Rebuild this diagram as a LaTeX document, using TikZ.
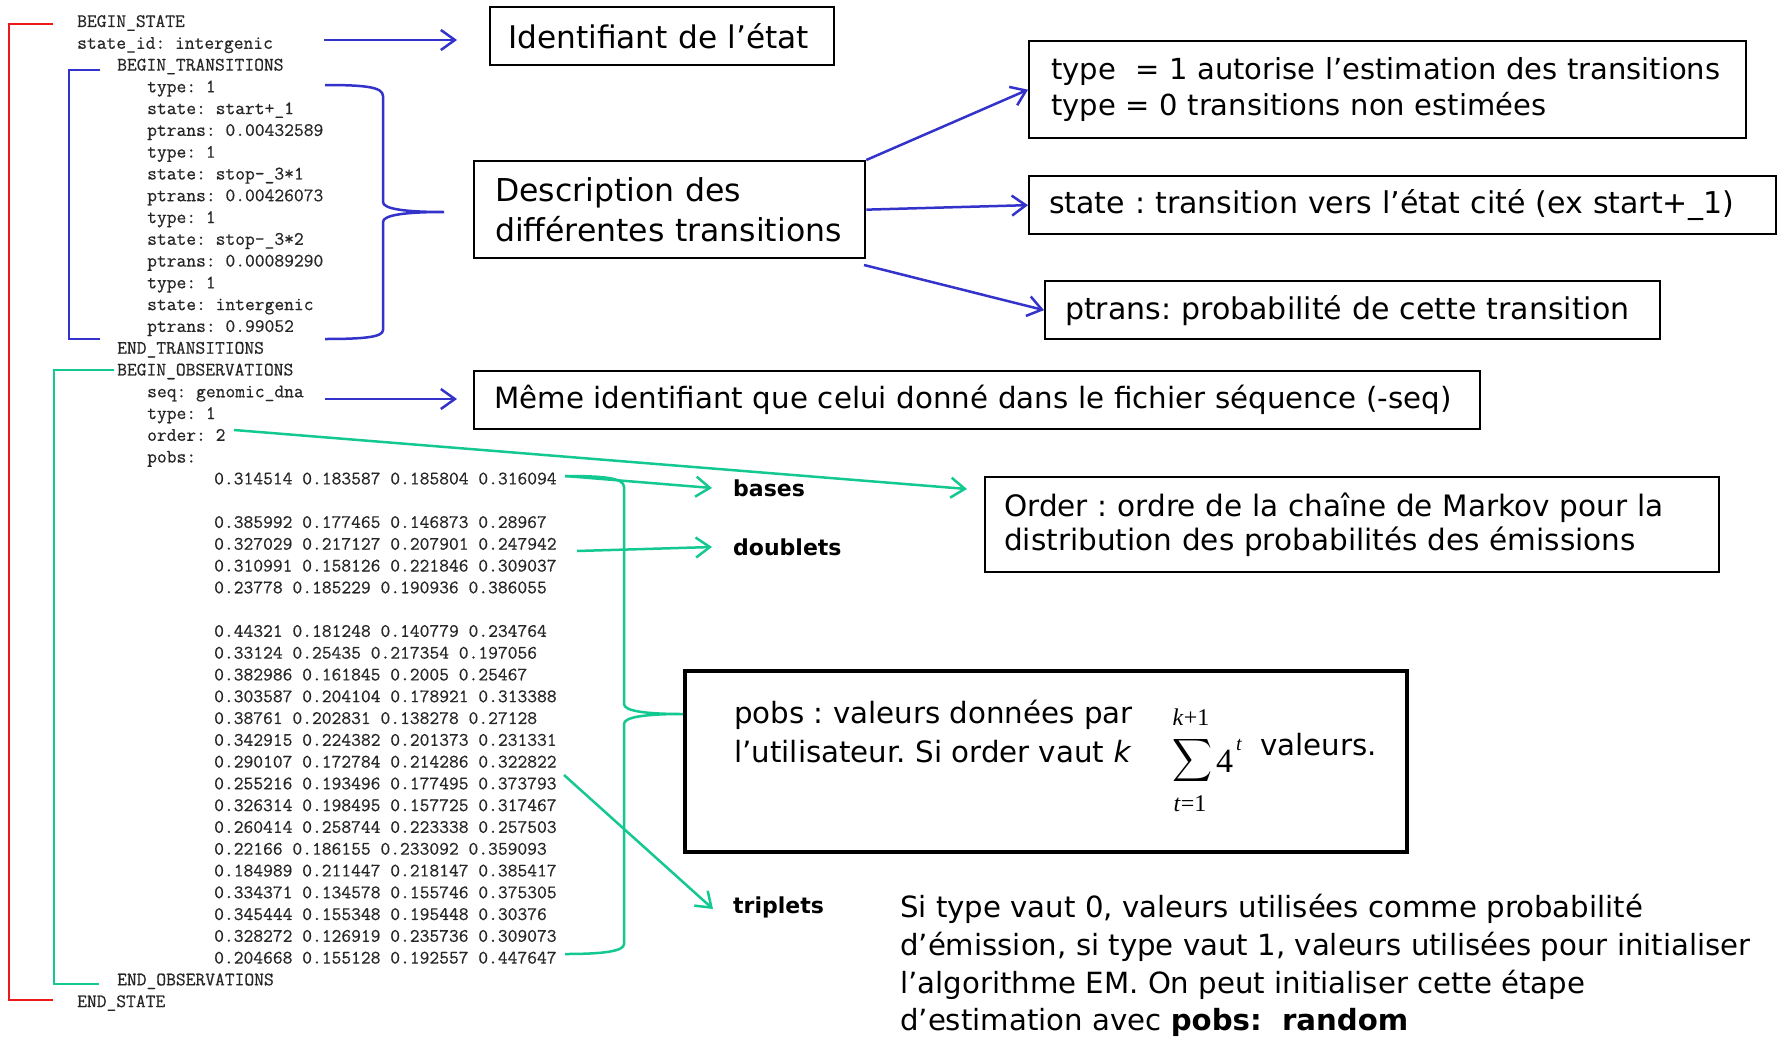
\documentclass[tikz,border=0pt]{standalone}
\usepackage{fontspec}
\usepackage{graphicx}
\usetikzlibrary{arrows.meta}
\newfontfamily\comic{DejaVu Sans}
\newfontfamily\timesf{Liberation Serif}
\newfontfamily\codef[FakeBold=0.5]{Latin Modern Mono}
\definecolor{myblue}{RGB}{51,51,204}
\definecolor{mygreen}{RGB}{20,200,145}
\definecolor{myred}{RGB}{235,25,25}
\newcommand{\oneline}[1]{\mbox{#1}}
\newcommand{\cs}[1]{\comic\fontsize{#1}{36}\selectfont}
\frenchspacing
\begin{document}
\begin{tikzpicture}[x=1pt,y=-1pt,
  code/.style={anchor=base west, inner sep=0pt, font=\codef\fontsize{19}{21.8}\selectfont, text=black!85},
  tbox/.style={draw=black, line width=2.3pt, anchor=north west, align=left, inner ysep=0pt, font=\cs{30}},
  ann/.style={anchor=base west, inner sep=0pt, font=\cs{29.3}},
  lbl/.style={anchor=west, inner sep=0pt, font=\comic\bfseries\fontsize{22}{26}\selectfont},
  bline/.style={draw=myblue, line width=2.5pt},
  gline/.style={draw=mygreen, line width=2.5pt},
  rline/.style={draw=myred, line width=2.2pt},
  barrow/.style={bline, -{Straight Barb[length=14pt,width=20pt]}},
  garrow/.style={gline, -{Straight Barb[length=14pt,width=20pt]}},
]
\path[fill=white, use as bounding box] (0,0) rectangle (1784,1041);

% ---------- code listing ----------
\foreach \i/\xx/\t in {
  0/77/BEGIN\_STATE,
  1/77/state\_id: intergenic,
  2/117/BEGIN\_TRANSITIONS,
  3/147/type: 1,
  4/147/state: start+\_1,
  5/147/ptrans: 0.00432589,
  6/147/type: 1,
  7/147/state: stop-\_3*1,
  8/147/ptrans: 0.00426073,
  9/147/type: 1,
  10/147/state: stop-\_3*2,
  11/147/ptrans: 0.00089290,
  12/147/type: 1,
  13/147/state: intergenic,
  14/147/ptrans: 0.99052,
  15/117/END\_TRANSITIONS,
  16/117/BEGIN\_OBSERVATIONS,
  17/147/seq: genomic\_dna,
  18/147/type: 1,
  19/147/order: 2,
  20/147/pobs:,
  21/214/0.314514 0.183587 0.185804 0.316094,
  23/214/0.385992 0.177465 0.146873 0.28967,
  24/214/0.327029 0.217127 0.207901 0.247942,
  25/214/0.310991 0.158126 0.221846 0.309037,
  26/214/0.23778 0.185229 0.190936 0.386055,
  28/214/0.44321 0.181248 0.140779 0.234764,
  29/214/0.33124 0.25435 0.217354 0.197056,
  30/214/0.382986 0.161845 0.2005 0.25467,
  31/214/0.303587 0.204104 0.178921 0.313388,
  32/214/0.38761 0.202831 0.138278 0.27128,
  33/214/0.342915 0.224382 0.201373 0.231331,
  34/214/0.290107 0.172784 0.214286 0.322822,
  35/214/0.255216 0.193496 0.177495 0.373793,
  36/214/0.326314 0.198495 0.157725 0.317467,
  37/214/0.260414 0.258744 0.223338 0.257503,
  38/214/0.22166 0.186155 0.233092 0.359093,
  39/214/0.184989 0.211447 0.218147 0.385417,
  40/214/0.334371 0.134578 0.155746 0.375305,
  41/214/0.345444 0.155348 0.195448 0.30376,
  42/214/0.328272 0.126919 0.235736 0.309073,
  43/214/0.204668 0.155128 0.192557 0.447647,
  44/117/END\_OBSERVATIONS,
  45/77/END\_STATE}
  \node[code] (L\i) at (\xx, 27+21.78*\i) {\t};

% ---------- brackets and braces ----------
\draw[rline] (53,24) -- (9,24) -- (9,1000) -- (53,1000);
\draw[bline] (100,70) -- (69,70) -- (69,339) -- (100,339);
\draw[gline] (114,370) -- (54,370) -- (54,984) -- (99,984);
\draw[bline] (325,85) .. controls (365,85) and (383,87) .. (383,96) -- (383,202)
   .. controls (383,209) and (405,212) .. (444,212)
   .. controls (405,212) and (383,215) .. (383,222) -- (383,330)
   .. controls (383,337) and (365,339) .. (325,339);
\draw[gline] (565,476) .. controls (605,476) and (624,478) .. (624,487) -- (624,704)
   .. controls (624,711) and (645,714) .. (683,714)
   .. controls (645,714) and (624,717) .. (624,724) -- (624,944)
   .. controls (624,951) and (605,954) .. (565,954);

% ---------- boxes ----------
\node[tbox, font=\cs{31.2}, inner xsep=18pt, text width=308pt, minimum height=58pt] (idbox) at (489,6)
  {\oneline{Identifiant de l’état}};
\node[tbox, font=\comic\fontsize{29}{36}\selectfont, inner xsep=22pt, text width=673pt, minimum height=97pt] (typebox) at (1028,40)
  {\oneline{type\ \ = 1 autorise l’estimation des transitions}\\\oneline{type = 0 transitions non estimées}};
\node[tbox, inner xsep=20pt, text width=707pt, minimum height=58pt] (statebox) at (1028,175)
  {\oneline{state : transition vers l’état cité (ex start+\_1)}};
\node[tbox, inner xsep=20pt, text width=575pt, minimum height=58pt] (ptransbox) at (1044,280)
  {\oneline{ptrans: probabilité de cette transition}};
\node[tbox, inner xsep=21pt, text width=349pt, minimum height=97pt, font=\comic\fontsize{31.5}{40}\selectfont] (descbox) at (473,160)
  {\oneline{Description des}\\\oneline{différentes transitions}};
\node[tbox, font=\cs{29.3}, inner xsep=20pt, text width=966pt, minimum height=58pt] (memebox) at (473,370)
  {\oneline{Même identifiant que celui donné dans le fichier séquence (-seq)}};
\node[tbox, inner xsep=19pt, text width=696pt, minimum height=95pt, font=\comic\fontsize{29.5}{34}\selectfont] (orderbox) at (984,476)
  {\oneline{Order : ordre de la chaîne de Markov pour la}\\\oneline{distribution des probabilités des émissions}};
\node[draw=black, line width=4pt, anchor=north west, minimum width=722pt, minimum height=181pt, inner sep=0pt] (pobsbox) at (683,669) {};

% ---------- pobs box content ----------
\node[ann] (pobs1) at (734,723) {pobs : valeurs données par};
\node[ann] (pobs2) at (734,762) {l’utilisateur. Si order vaut \textit{k}};
\node[inner sep=0pt] (sigma) at (1192,760) {\resizebox*{40pt}{48pt}{$\displaystyle\sum$}};
\node[inner sep=0pt, font=\timesf\fontsize{24}{28}\selectfont] (sumtop) at (1191,717) {\textit{k}+1};
\node[inner sep=0pt, font=\timesf\fontsize{24}{28}\selectfont] (sumbot) at (1190,804) {\textit{t}=1};
\node[anchor=base west, inner sep=0pt, font=\timesf\fontsize{34}{40}\selectfont] (four) at (1216,772) {4};
\node[anchor=base west, inner sep=0pt, font=\timesf\itshape\fontsize{20}{24}\selectfont] (supt) at (1236,750) {t};
\node[ann] (valeurs) at (1260,755) {valeurs.};

% ---------- labels ----------
\node[lbl] (bases) at (733,488) {bases};
\node[lbl] (doublets) at (733,547) {doublets};
\node[lbl] (triplets) at (733,907) {triplets};

% ---------- paragraph ----------
\node[ann, font=\cs{29.2}] (para1) at (900,917) {Si type vaut 0, valeurs utilisées comme probabilité};
\node[ann, font=\cs{29.2}] (para2) at (900,955) {d’émission, si type vaut 1, valeurs utilisées pour initialiser};
\node[ann, font=\cs{29.2}] (para3) at (900,993) {l’algorithme EM. On peut initialiser cette étape};
\node[ann, font=\cs{29.2}] (para4) at (900,1030) {d’estimation avec \textbf{pobs:\ \ random}};

% ---------- connector end points ----------
\coordinate (idS) at (324,40);
\coordinate (idE) at (457,40);
\coordinate (seqS) at (325,399);
\coordinate (seqE) at (457,399);
\coordinate (descP) at (864,265);
\coordinate (ordS) at (234,430);
\coordinate (ordE) at (967,489);
\coordinate (basS) at (565,476);
\coordinate (dblS) at (577,551);
\coordinate (triS) at (564,775);

% ---------- connectors ----------
\draw[barrow] (idS) -- (idE);
\draw[barrow] (seqS) -- (seqE);
\draw[barrow] (descbox.north east) -- (typebox.west);
\draw[barrow] (descbox.east) -- (statebox.west);
\draw[barrow] (descP) -- (ptransbox.west);
\draw[garrow] (ordS) -- (ordE);
\draw[garrow] (basS) -- ([xshift=-21pt]bases.west);
\draw[garrow] (dblS) -- ([xshift=-21pt]doublets.west);
\draw[garrow] (triS) -- ([xshift=-20pt,yshift=-2pt]triplets.west);
\end{tikzpicture}
\end{document}
